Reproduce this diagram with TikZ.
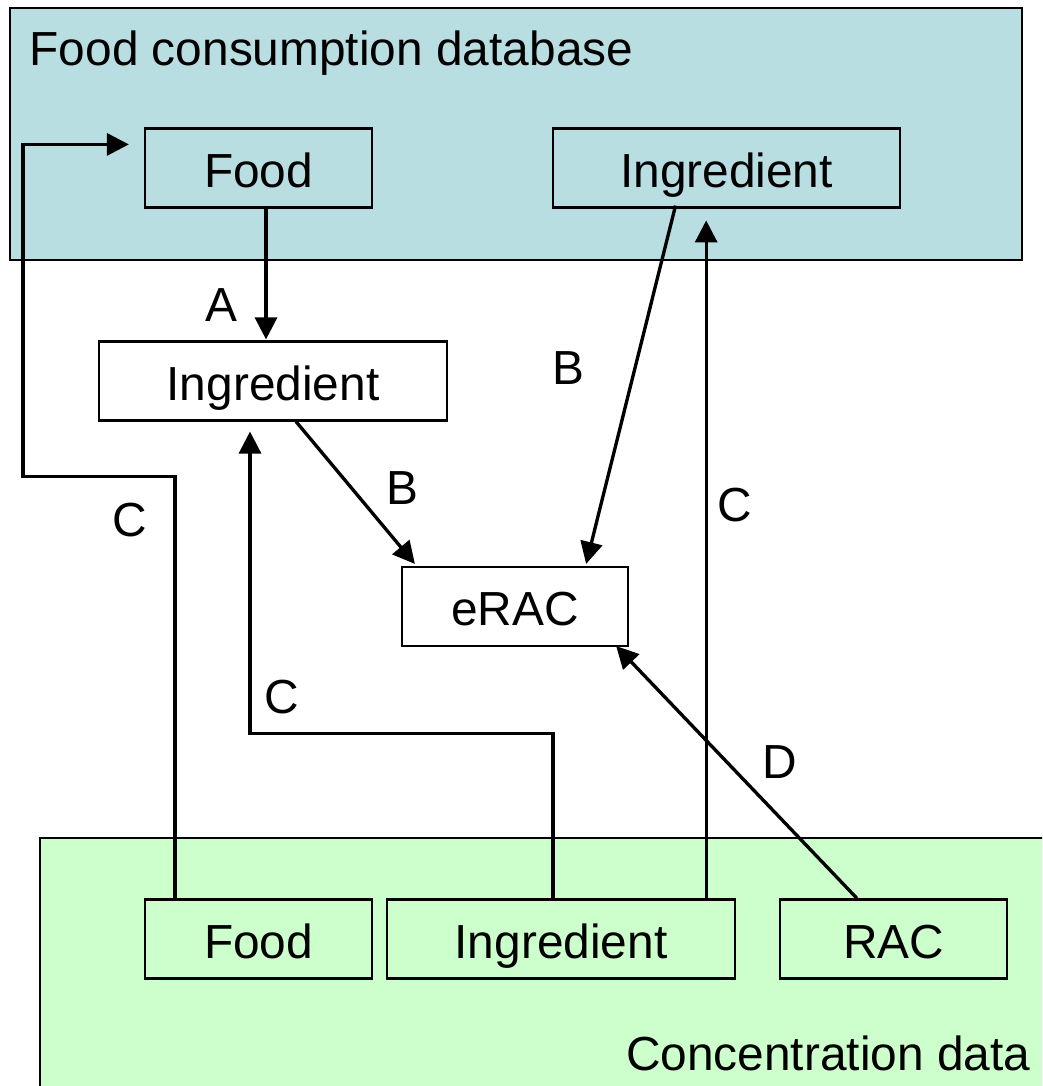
\documentclass[tikz,border=0pt]{standalone}
\usepackage{fontspec}
\setmainfont{Liberation Sans}
\usepackage{tikz}
\usetikzlibrary{arrows.meta}
\usetikzlibrary{calc}

\definecolor{dbblue}{HTML}{B8DEE2}
\definecolor{concgreen}{HTML}{CCFFCC}

\begin{document}
\begin{tikzpicture}[x=0.01cm,y=-0.01cm,font=\fontsize{13.6pt}{16pt}\selectfont,
  box/.style={shape=rectangle,draw,line width=0.6pt,minimum height=0.79cm,inner sep=0pt,text height=0.5cm,text depth=0.12cm},
  arr/.style={-{Triangle[length=2.2mm,width=2.2mm]},line width=0.95pt},
  lbl/.style={inner sep=0pt}]
\clip (0,0) rectangle (1042,1086);
\filldraw[fill=dbblue,line width=0.6pt] (10,8) rectangle (1022,260);
\filldraw[fill=concgreen,line width=0.6pt] (40,838) rectangle (1060,1100);
\draw (29,66) node (fcdb) [anchor=base west,inner sep=0pt] {Food consumption database};
\draw (1031,1070) node (cdata) [anchor=base east,inner sep=0pt] {Concentration data};
\draw (258.5,168) node (food1) [box,minimum width=2.27cm] {Food};
\draw (726.5,168) node (ingr3) [box,minimum width=3.47cm] {Ingredient};
\draw (273,381) node (ingr2) [box,fill=white,minimum width=3.48cm] {Ingredient};
\draw (515,606.5) node (erac) [box,fill=white,minimum width=2.26cm] {eRAC};
\draw (258.5,939) node (food5) [box,minimum width=2.27cm] {Food};
\draw (561,939) node (ingr5) [box,minimum width=3.48cm] {Ingredient};
\draw (893.5,939) node (rac) [box,minimum width=2.27cm] {RAC};
\draw[arr] ($(food1.south)+(7.5,-3)$) -- ($(ingr2.north)+(-7,-1)$);
\draw (221,305) node (la) [lbl] {A};
\draw[arr] ($(ingr2.south)+(23,0)$) -- ($(erac.north west)+(14,-2)$);
\draw (402,488) node (lb1) [lbl] {B};
\draw[arr] ($(ingr3.south)+(-51,-3)$) -- ($(erac.north east)+(-43,-2)$);
\draw (568,368) node (lb2) [lbl] {B};
\draw[arr] ($(ingr5.north east)+(-30,0)$) -- ++(0,-678);
\draw (735,505) node (lc3) [lbl] {C};
\draw[arr] ($(ingr5.north)+(-8,0)$) -- ++(0,-165) -| ($(ingr2.south)+(-23,10)$);
\draw (282,697) node (lc2) [lbl] {C};
\draw[arr] ($(food5.north west)+(31,0)$) -- ++(0,-422) -- ++(-152,0) |- ($(food1.north west)+(-15,17)$);
\draw (130,520) node (lc1) [lbl] {C};
\draw[arr] ($(rac.north)+(-36.5,0)$) -- ($(erac.south east)+(-13,-1)$);
\draw (780,762) node (ld) [lbl] {D};
\end{tikzpicture}
\end{document}
